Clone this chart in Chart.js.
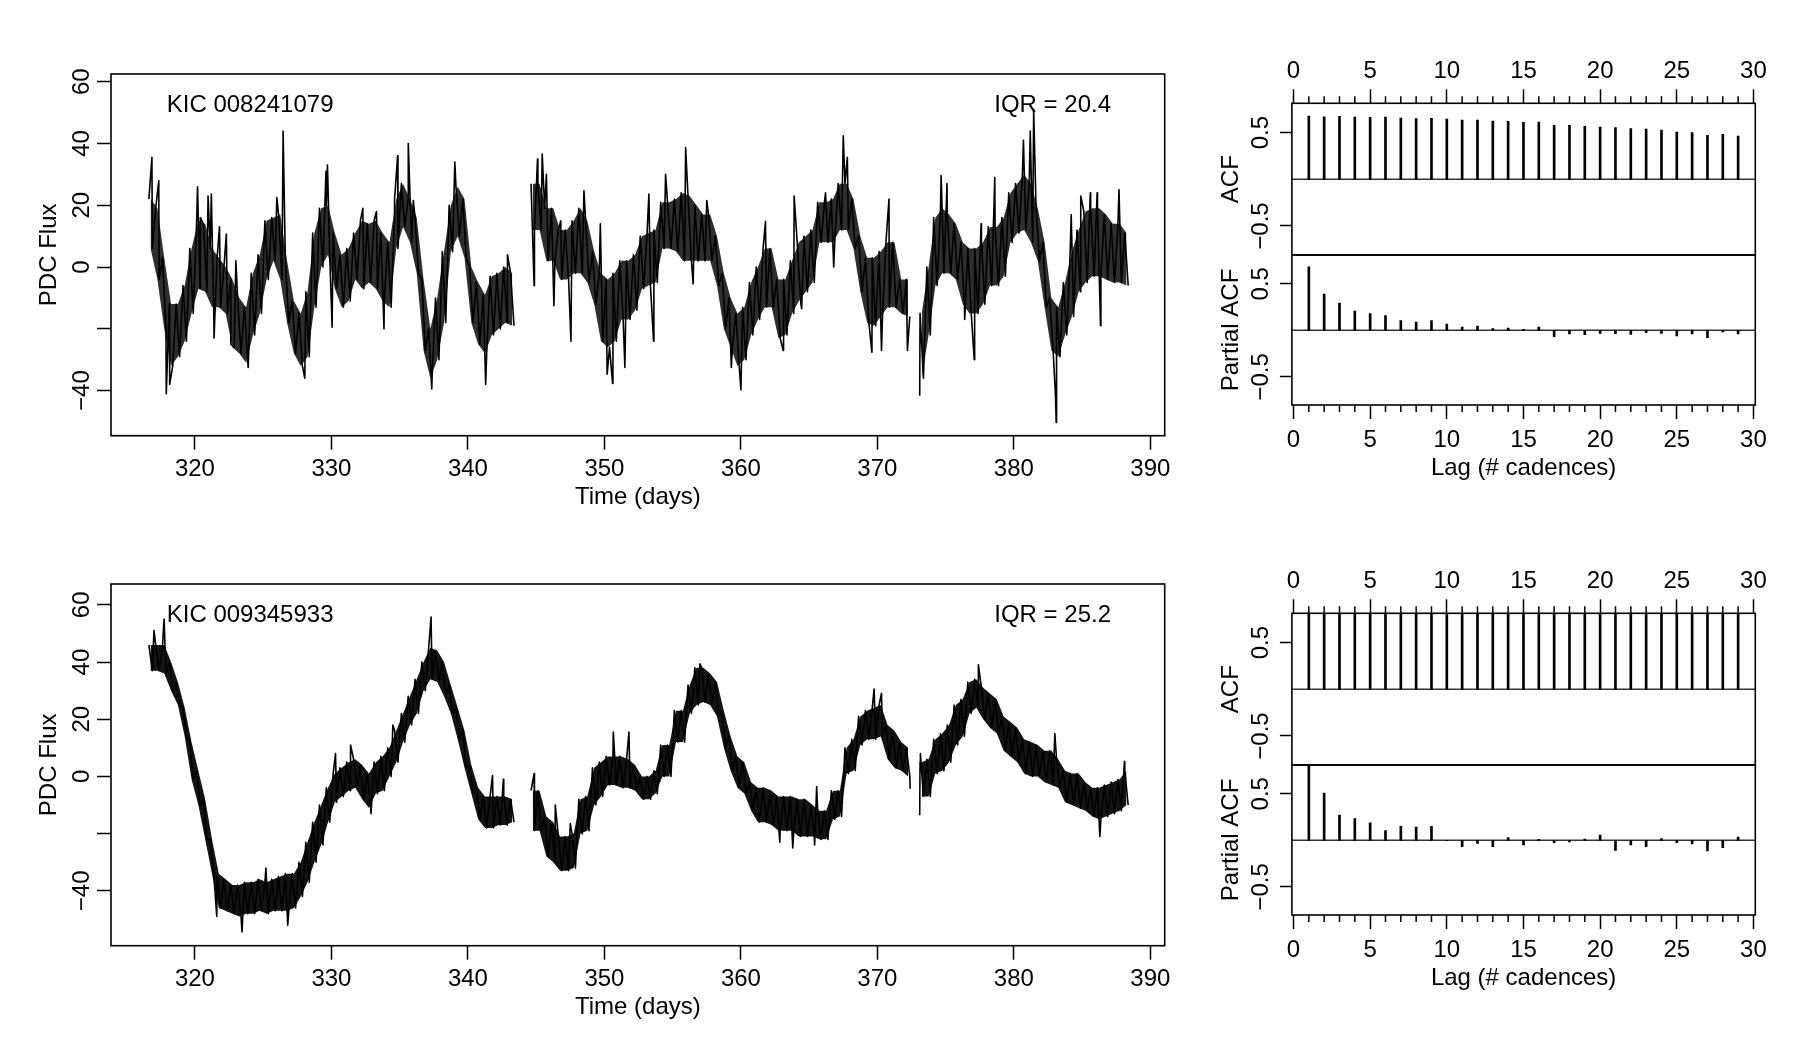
<!DOCTYPE html>
<html>
<head>
<meta charset="utf-8">
<title>Kepler light curves with ACF / PACF</title>
<script src="https://cdn.jsdelivr.net/npm/chart.js@4.4.1/dist/chart.umd.min.js"></script>
<style>
  html, body { margin: 0; padding: 0; background: #fff; }
  body { width: 1800px; height: 1050px; position: relative; overflow: hidden; }
  .panel { position: absolute; }
</style>
</head>
<body>
<div class="panel" style="left:0;top:0;width:1190px;height:525px"><canvas id="lcTop"></canvas></div>
<div class="panel" style="left:0;top:510px;width:1190px;height:525px"><canvas id="lcBot"></canvas></div>
<div class="panel" style="left:1180px;top:0;width:620px;height:525px"><canvas id="acfTop"></canvas></div>
<div class="panel" style="left:1180px;top:0;width:620px;height:525px"><canvas id="pacfTop"></canvas></div>
<div class="panel" style="left:1180px;top:510px;width:620px;height:525px"><canvas id="acfBot"></canvas></div>
<div class="panel" style="left:1180px;top:510px;width:620px;height:525px"><canvas id="pacfBot"></canvas></div>
<script>
// ---- data ----
// half-day bins (days); each bin has the upper / lower edge of the flux band
const DAYS = [
  316.75, 317.25, 317.75, 318.25, 318.75, 319.25, 319.75, 320.25, 320.75, 321.25, 321.75, 322.25, 322.75, 323.25,
  323.75, 324.25, 324.75, 325.25, 325.75, 326.25, 326.75, 327.25, 327.75, 328.25, 328.75, 329.25, 329.75, 330.25,
  330.75, 331.25, 331.75, 332.25, 332.75, 333.25, 333.75, 334.25, 334.75, 335.25, 335.75, 336.25, 336.75, 337.25,
  337.75, 338.25, 338.75, 339.25, 339.75, 340.25, 340.75, 341.25, 341.75, 342.25, 342.75, 343.25,
  344.75, 345.25, 345.75, 346.25, 346.75, 347.25, 347.75, 348.25, 348.75, 349.25, 349.75, 350.25, 350.75, 351.25,
  351.75, 352.25, 352.75, 353.25, 353.75, 354.25, 354.75, 355.25, 355.75, 356.25, 356.75, 357.25, 357.75, 358.25,
  358.75, 359.25, 359.75, 360.25, 360.75, 361.25, 361.75, 362.25, 362.75, 363.25, 363.75, 364.25, 364.75, 365.25,
  365.75, 366.25, 366.75, 367.25, 367.75, 368.25, 368.75, 369.25, 369.75, 370.25, 370.75, 371.25, 371.75, 372.25,
  373.25, 373.75, 374.25, 374.75, 375.25, 375.75, 376.25, 376.75, 377.25, 377.75, 378.25, 378.75, 379.25, 379.75,
  380.25, 380.75, 381.25, 381.75, 382.25, 382.75, 383.25, 383.75, 384.25, 384.75, 385.25, 385.75, 386.25, 386.75,
  387.25, 387.75, 388.25
];
const GAP_DAYS = [344.0, 372.75];   // breaks in the cadence

// KIC 008241079
const TOP_HI = [
  22, 19, 3, -12, -12, -6, 6, 15, 14, 6, 3, 0, -4, -10,
  -13, -2, 4, 15, 16, 17, 2, -11, -15, -8, 11, 19, 20, 11,
  4, 6, 11, 15, 14, 15, 11, 8, 22, 27, 22, 16, -4, -20,
  -10, 5, 20, 26, 22, 0, -5, -9, -3, -2, 0, -2,
  27, 27, 19, 19, 12, 12, 15, 19, 15, 5, -2, -4, -2, 2,
  2, 4, 10, 11, 12, 21, 21, 22, 24, 23, 20, 17, 17, 10,
  -2, -10, -15, -13, -5, 0, 6, 6, -4, -4, 2, 8, 10, 12,
  21, 21, 22, 27, 27, 22, 10, 3, 3, 5, 8, 8, -4, -4,
  -15, 0, 16, 19, 17, 14, 8, 6, 6, 8, 13, 13, 16, 24,
  27, 30, 27, 19, 8, -10, -13, -5, 5, 12, 18, 19, 19, 17,
  14, 14, 11
];
const TOP_LO = [
  6, -4, -20, -32, -29, -24, -15, -7, -8, -13, -13, -15, -26, -28,
  -31, -22, -15, -4, 2, -4, -18, -28, -32, -29, -13, 0, 4, -7,
  -13, -11, -4, -7, -5, -7, -11, -13, 6, 13, 8, -2, -27, -36,
  -30, -18, 5, 10, 3, -18, -25, -28, -22, -20, -18, -19,
  12, 12, 2, 2, -4, -4, -2, -2, -5, -12, -24, -26, -24, -17,
  -17, -14, -7, -6, -5, 6, 6, 5, 2, 2, 2, 2, 2, -6,
  -20, -26, -32, -30, -22, -17, -13, -13, -23, -22, -15, -11, -8, -5,
  8, 8, 8, 12, 12, 6, -8, -18, -19, -16, -13, -13, -15, -16,
  -36, -22, -6, -2, -2, -4, -12, -15, -15, -12, -6, -6, -3, 8,
  11, 12, 8, 2, -13, -27, -29, -22, -16, -8, -5, -3, -3, -4,
  -5, -5, -6
];
const TOP_SPIKE_T = [
  316.85, 317.35, 317.9, 318.15, 320.19, 320.4, 320.96, 321.2, 321.4, 321.8, 322.3, 322.63, 323.0, 323.9,
  326.0, 326.46, 328.05, 329.6, 329.71, 330.05, 332.3, 333.3, 333.85, 334.6, 334.85, 335.63, 336.0, 337.35,
  339.04, 341.3, 342.9,
  344.85, 345.1, 345.44, 345.75, 346.3, 346.8, 347.55, 348.5, 349.7, 350.2, 350.6, 351.5, 353.26, 353.6,
  354.48, 355.95, 356.5, 357.5, 359.3, 360.0, 361.8, 363.1, 363.9, 364.45, 366.2, 366.8, 367.5, 367.8,
  369.6, 370.3, 370.85, 372.2,
  373.1, 374.67, 375.1, 376.4, 377.1, 377.6, 378.6, 380.7, 381.2, 381.45, 383.05, 383.1, 384.2, 384.9,
  385.6, 386.1, 386.35, 387.7
];
const TOP_SPIKE_V = [
  35.5, 28, -41, -38, 26, 16, 23, 23.6, -23, 13, 10.7, -25, 2, -32.5,
  22.5, 44, -36, 31, 33, -19.5, 19, 18, -20, 14.5, 36, 40, 21.5, -39.5,
  34, -38, 4,
  -6, 35, 36.6, 30, -12.5, 15, -24, 24.7, 14, -34.7, -37.7, -32.5, 23.6, -24,
  30, 38.7, -5.5, 21.5, -32.5, -39.8, 14.7, -27, 23, -13.5, 24, 0, 42.5, 35.5,
  -27.6, -27, 22, -27,
  -41.7, 29.6, 27, -17, -30, 14, 29, 41, 44, 51, -41.7, -50.3, 17, 23,
  24, 24, -19, 25
];

// KIC 009345933
const BOT_HI = [
  46, 46, 46, 40, 33, 24, 12, 2, -8, -22, -34, -36, -38, -38,
  -37, -37, -36, -37, -36, -35, -34, -34, -30, -23, -16, -10, -4, 1,
  3, 5, 6, 4, 1, 5, 7, 10, 16, 22, 28, 34, 40, 45,
  44, 40, 32, 24, 16, 4, -4, -7, -7, -7, -7, -8,
  -5, -5, -14, -16, -21, -21, -20, -8, -7, 3, 5, 7, 7, 7,
  6, 4, 0, 0, 2, 11, 11, 23, 23, 32, 38, 38, 36, 33,
  23, 14, 7, 5, -2, -4, -4, -5, -7, -7, -7, -8, -8, -10,
  -12, -12, -5, -5, 10, 13, 21, 23, 24, 25, 18, 16, 12, 10,
  5, 6, 13, 15, 18, 25, 27, 33, 34, 31, 29, 27, 21, 19,
  17, 13, 12, 11, 9, 9, 6, 2, 1, 1, -2, -4, -4, -3,
  -2, -1, 2
];
const BOT_LO = [
  37, 37, 36, 30, 25, 14, -1, -10, -22, -34, -46, -47, -48, -49,
  -48, -48, -47, -48, -47, -47, -47, -46, -42, -37, -30, -24, -16, -9,
  -7, -5, -4, -8, -11, -6, -5, 0, 5, 12, 18, 22, 30, 34,
  33, 28, 22, 13, 3, -6, -15, -18, -18, -17, -17, -16,
  -19, -19, -28, -30, -33, -33, -32, -20, -19, -10, -7, -3, -3, -4,
  -4, -5, -8, -8, -6, 0, 0, 12, 12, 22, 25, 26, 25, 21,
  10, 2, -4, -6, -12, -16, -16, -17, -19, -19, -19, -21, -21, -21,
  -22, -22, -15, -14, 1, 2, 11, 13, 13, 14, 6, 3, 2, 0,
  -7, -7, 1, 2, 5, 11, 14, 22, 24, 20, 17, 15, 9, 7,
  5, 1, 0, 0, -2, -3, -4, -9, -10, -11, -12, -14, -15, -14,
  -13, -12, -10
];
const BOT_SPIKE_T = [
  317.0, 317.74, 321.6, 323.45, 325.2, 326.8, 330.3, 331.4, 332.9, 334.5, 337.3, 341.8, 342.6,
  344.85, 346.4, 347.5, 350.65, 351.8, 357.0, 362.85, 363.8, 365.4, 365.55, 369.76, 370.3, 372.4,
  373.1, 373.15, 377.4, 383.0, 386.3, 388.1
];
const BOT_SPIKE_V = [
  51, 55, -49, -54.4, -32, -52, 8, 11, -13, 18, 55.7, 0.3, -1,
  1, -10, -16.5, 15.5, 15.5, 39.4, -23, -25, -24, -3.5, 30.6, 29, -4.3,
  -13.6, 8, 39, 15, -21, 5.2
];

const TIME_TICKS = [320, 330, 340, 350, 360, 370, 380, 390];
const FLUX_TICKS = [-40, -20, 0, 20, 40, 60];
const FLUX_LABELS = [-40, 0, 20, 40, 60];

const LAGS = [1, 2, 3, 4, 5, 6, 7, 8, 9, 10, 11, 12, 13, 14, 15, 16, 17, 18, 19, 20, 21, 22, 23, 24, 25, 26, 27, 28, 29];
const LAG_TICKS = [0, 5, 10, 15, 20, 25, 30];
const CORR_TICKS = [-0.5, 0.5];

const ACF_TOP = [0.679, 0.671, 0.675, 0.668, 0.664, 0.668, 0.657, 0.650, 0.654, 0.646, 0.636, 0.636, 0.625, 0.621, 0.611,
  0.614, 0.579, 0.579, 0.568, 0.561, 0.554, 0.543, 0.539, 0.529, 0.507, 0.500, 0.471, 0.482, 0.464];
const PACF_TOP = [0.682, 0.389, 0.293, 0.207, 0.179, 0.157, 0.104, 0.089, 0.104, 0.068, 0.036, 0.046, 0.018, 0.025, 0.011,
  0.036, -0.068, -0.039, -0.046, -0.032, -0.036, -0.043, -0.025, -0.032, -0.061, -0.039, -0.079, -0.018, -0.039];
// lower star: the ACF runs off the top of the panel, values above the frame are guesses
const ACF_BOT = [0.97, 0.96, 0.96, 0.95, 0.95, 0.94, 0.94, 0.94, 0.93, 0.93, 0.93, 0.92, 0.92, 0.92, 0.91,
  0.91, 0.91, 0.90, 0.90, 0.90, 0.89, 0.89, 0.89, 0.88, 0.88, 0.88, 0.87, 0.87, 0.87];
const PACF_BOT = [0.97, 0.507, 0.271, 0.232, 0.189, 0.104, 0.150, 0.143, 0.150, -0.005, -0.068, -0.032, -0.068, 0.029, -0.050,
  0.011, -0.025, -0.018, 0.014, 0.057, -0.107, -0.050, -0.068, 0.018, -0.025, -0.039, -0.114, -0.079, 0.036];

// ---- styling ----
const FONT = '"Liberation Sans", Arial, Helvetica, sans-serif';
Chart.defaults.font.family = FONT;
Chart.defaults.font.size = 24;
Chart.defaults.font.lineHeight = 1.2;
Chart.defaults.color = '#000';
Chart.defaults.animation = false;

const minus = v => (v < 0 ? '\u2212' + Math.abs(v) : String(v));

// frame, rotated y labels, zero line, minor ticks and the in-panel notes
function decor(cfg) {
  return {
    id: 'decor',
    beforeDatasetsDraw(chart) {
      if (!cfg.zeroLine) return;
      const { ctx, chartArea: a, scales } = chart;
      const y = scales.y.getPixelForValue(0);
      ctx.save();
      ctx.strokeStyle = '#333';
      ctx.lineWidth = 1.5;
      ctx.beginPath();
      ctx.moveTo(a.left, y);
      ctx.lineTo(a.right, y);
      ctx.stroke();
      ctx.restore();
    },
    afterDraw(chart) {
      const { ctx, chartArea: a, scales } = chart;
      ctx.save();
      ctx.fillStyle = '#000';
      ctx.strokeStyle = '#000';
      ctx.font = '24px ' + FONT;

      cfg.yLabels.forEach(v => {
        ctx.save();
        ctx.translate(cfg.yLabelX, scales.y.getPixelForValue(v));
        ctx.rotate(-Math.PI / 2);
        ctx.textAlign = 'center';
        ctx.textBaseline = 'middle';
        ctx.fillText(minus(v), 0, 0);
        ctx.restore();
      });

      if (cfg.minor) {
        ctx.lineWidth = 1.5;
        const edge = cfg.minor.side === 'top' ? a.top : a.bottom;
        const dir = cfg.minor.side === 'top' ? -1 : 1;
        ctx.beginPath();
        LAGS.forEach(l => {
          if (l % 5 === 0) return;
          const x = scales.x.getPixelForValue(l);
          ctx.moveTo(x, edge);
          ctx.lineTo(x, edge + dir * cfg.minor.length);
        });
        ctx.stroke();
      }

      (cfg.notes || []).forEach(n => {
        ctx.textBaseline = 'middle';
        ctx.textAlign = n.align;
        const x = n.align === 'left' ? a.left + n.dx : a.right - n.dx;
        ctx.fillText(n.text, x, a.top + n.dy);
      });

      ctx.lineWidth = 1.6;
      ctx.strokeRect(a.left, a.top, a.right - a.left, a.bottom - a.top);
      ctx.restore();
    }
  };
}

// band edge as its own series, broken at the cadence gaps
function edge(values) {
  const pts = DAYS.map((t, i) => ({ x: t, y: values[i] }));
  GAP_DAYS.forEach(t => pts.push({ x: t, y: null }));
  return pts.sort((p, q) => p.x - q.x);
}

// zig-zag through the band edges plus the single outlying cadences
function lightCurve(hi, lo, spikeT, spikeV) {
  const pts = [];
  DAYS.forEach((t, i) => {
    pts.push({ x: t - 0.125, y: hi[i] });
    pts.push({ x: t + 0.125, y: lo[i] });
  });
  spikeT.forEach((t, i) => pts.push({ x: t, y: spikeV[i] }));
  GAP_DAYS.forEach(t => pts.push({ x: t, y: null }));
  return pts.sort((p, q) => p.x - q.x);
}

function lightCurveChart(id, hi, lo, spikeT, spikeV, yMin, yMax, star, iqr, shade) {
  const bandEdge = { borderWidth: 0, pointRadius: 0, tension: 0, spanGaps: false };
  return new Chart(document.getElementById(id), {
    type: 'line',
    data: {
      datasets: [
        { ...bandEdge, data: edge(hi), fill: false },
        { ...bandEdge, data: edge(lo), fill: '-1', backgroundColor: shade },
        {
          data: lightCurve(hi, lo, spikeT, spikeV),
          borderColor: '#000',
          borderWidth: 1.6,
          borderJoinStyle: 'round',
          pointRadius: 0,
          tension: 0,
          spanGaps: false,
          fill: false
        }
      ]
    },
    options: {
      responsive: true,
      maintainAspectRatio: false,
      layout: { padding: { top: 74, right: 25.3, left: 0, bottom: 0 } },
      plugins: { legend: { display: false }, tooltip: { enabled: false } },
      scales: {
        x: {
          type: 'linear', min: 313.85, max: 391.05,
          afterBuildTicks: s => { s.ticks = TIME_TICKS.map(value => ({ value })); },
          afterFit: s => { s.height = 89.3; s.paddingLeft = 0; s.paddingRight = 0; },
          ticks: { padding: 5.2, autoSkip: false, maxRotation: 0, callback: v => String(v) },
          grid: { drawOnChartArea: false, tickLength: 14, tickWidth: 1.5, tickColor: '#000' },
          border: { display: false },
          title: { display: true, text: 'Time (days)', padding: { top: 0, bottom: 13.6 } }
        },
        y: {
          type: 'linear', min: yMin, max: yMax,
          afterBuildTicks: s => { s.ticks = FLUX_TICKS.map(value => ({ value })); },
          afterFit: s => { s.width = 111; s.paddingTop = 0; s.paddingBottom = 0; },
          ticks: { display: false },
          grid: { drawOnChartArea: false, tickLength: 14, tickWidth: 1.5, tickColor: '#000' },
          border: { display: false },
          title: { display: true, text: 'PDC Flux', padding: { top: 35.3, bottom: 0 } }
        }
      }
    },
    plugins: [decor({
      yLabels: FLUX_LABELS, yLabelX: 82.5,
      notes: [
        { text: star, align: 'left', dx: 55.7, dy: 31 },
        { text: iqr, align: 'right', dx: 53.7, dy: 31 }
      ]
    })]
  });
}

function corrChart(id, values, kind) {
  const upper = kind === 'acf';
  return new Chart(document.getElementById(id), {
    type: 'bar',
    data: {
      datasets: [{
        data: LAGS.map((x, i) => ({ x, y: values[i] })),
        backgroundColor: '#000',
        borderWidth: 0,
        barThickness: 2,
        clip: 0
      }]
    },
    options: {
      responsive: true,
      maintainAspectRatio: false,
      layout: { padding: upper ? { top: 0, bottom: 270, left: 0, right: 44.7 } : { top: 255, bottom: 0, left: 0, right: 44.7 } },
      plugins: { legend: { display: false }, tooltip: { enabled: false } },
      scales: {
        x: {
          type: 'linear', position: upper ? 'top' : 'bottom', min: -0.104, max: 30.12, offset: false,
          afterBuildTicks: s => { s.ticks = LAG_TICKS.map(value => ({ value })); },
          afterFit: s => { s.height = upper ? 103.3 : 120; s.paddingLeft = 0; s.paddingRight = 0; },
          ticks: { padding: upper ? 3.2 : 6.6, autoSkip: false, maxRotation: 0, callback: v => String(v) },
          grid: { offset: false, drawOnChartArea: false, tickLength: 14, tickWidth: 1.5, tickColor: '#000' },
          border: { display: false },
          title: upper ? { display: false } : { display: true, text: 'Lag (# cadences)', padding: { top: 0, bottom: 42.6 } }
        },
        y: {
          type: 'linear',
          min: upper ? -0.811 : -0.801, max: upper ? 0.815 : 0.808,
          afterBuildTicks: s => { s.ticks = CORR_TICKS.map(value => ({ value })); },
          afterFit: s => { s.width = 111.9; s.paddingTop = 0; s.paddingBottom = 0; },
          ticks: { display: false },
          grid: { drawOnChartArea: false, tickLength: 12, tickWidth: 1.5, tickColor: '#000' },
          border: { display: false },
          title: { display: true, text: upper ? 'ACF' : 'Partial ACF', padding: { top: 37, bottom: 0 } }
        }
      }
    },
    plugins: [decor({
      yLabels: CORR_TICKS, yLabelX: 81.7, zeroLine: true,
      minor: { side: upper ? 'top' : 'bottom', length: 7 }
    })]
  });
}

lightCurveChart('lcTop', TOP_HI, TOP_LO, TOP_SPIKE_T, TOP_SPIKE_V, -54.6, 62.5, 'KIC 008241079', 'IQR = 20.4', 'rgba(0,0,0,0.82)');
lightCurveChart('lcBot', BOT_HI, BOT_LO, BOT_SPIKE_T, BOT_SPIKE_V, -59.2, 67.3, 'KIC 009345933', 'IQR = 25.2', 'rgba(0,0,0,0.92)');
corrChart('acfTop', ACF_TOP, 'acf');
corrChart('pacfTop', PACF_TOP, 'pacf');
corrChart('acfBot', ACF_BOT, 'acf');
corrChart('pacfBot', PACF_BOT, 'pacf');
</script>
</body>
</html>
